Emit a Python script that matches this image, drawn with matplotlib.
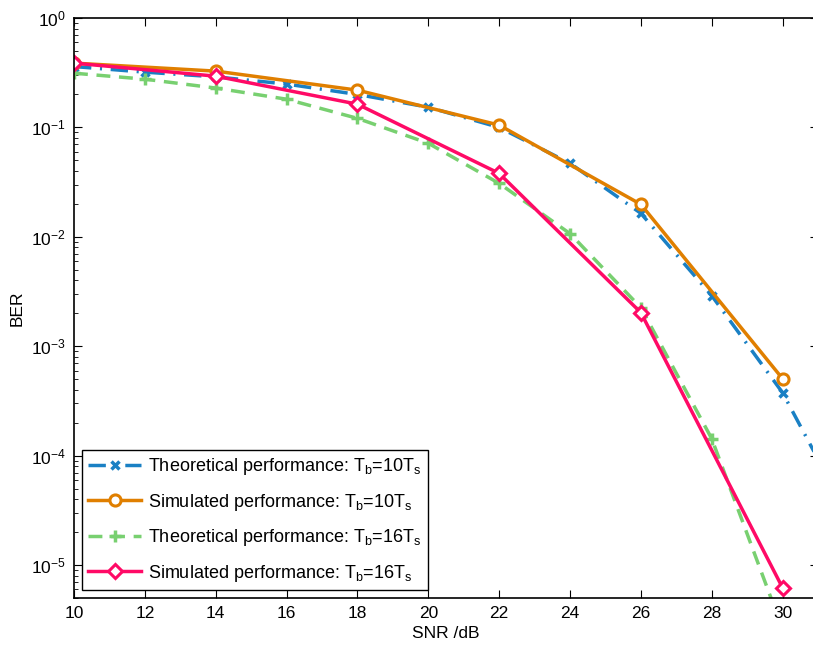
import numpy as np
import matplotlib
matplotlib.use("Agg")
import matplotlib.pyplot as plt

plt.rcParams['font.family'] = ['Liberation Sans', 'DejaVu Sans']
plt.rcParams['mathtext.fontset'] = 'custom'
plt.rcParams['mathtext.rm'] = 'Liberation Sans'
plt.rcParams['mathtext.it'] = 'Liberation Sans:italic'
plt.rcParams['font.size'] = 12.5

# theoretical curves, every 2 dB
snr_theory = [10, 12, 14, 16, 18, 20, 22, 24, 26, 28, 30, 32]
ber_theory_10 = [0.36, 0.32, 0.29, 0.249, 0.20, 0.153, 0.100, 0.047, 0.0164, 2.9e-3, 3.76e-4, 2.3e-5]
ber_theory_16 = [0.313, 0.276, 0.229, 0.181, 0.121, 0.0716, 0.0308, 0.0107, 2.25e-3, 1.43e-4, 2.6e-6, 1e-8]

# simulated, every 4 dB
snr_sim = [10, 14, 18, 22, 26, 30]
ber_sim_10 = [0.387, 0.327, 0.219, 0.105, 0.0198, 5.05e-4]
ber_sim_16 = [0.387, 0.294, 0.163, 0.038, 2.03e-3, 6.2e-6]

labels = [
    r'Theoretical performance: T$_\mathrm{b}$=10T$_\mathrm{s}$',
    r'Simulated performance: T$_\mathrm{b}$=10T$_\mathrm{s}$',
    r'Theoretical performance: T$_\mathrm{b}$=16T$_\mathrm{s}$',
    r'Simulated performance: T$_\mathrm{b}$=16T$_\mathrm{s}$',
]

c_blue = '#1a80c4'
c_orange = '#e07f00'
c_green = '#78d070'
c_pink = '#ff0a66'

fig = plt.figure(figsize=(8.13, 6.48), dpi=100)
ax = fig.add_axes([74 / 813, 1 - 598 / 648, (818 - 74) / 813, (598 - 18) / 648])

ax.semilogy(snr_theory, ber_theory_10, color=c_blue, linestyle=(0, (5, 2.5, 0.6, 2.5)), linewidth=2.5,
            marker='x', markersize=6, markeredgewidth=2.5, label=labels[0])
ax.semilogy(snr_sim, ber_sim_10, color=c_orange, linestyle='-', linewidth=2.5,
            marker='o', markersize=8, markeredgewidth=2.2, markerfacecolor='white', label=labels[1])
ax.semilogy(snr_theory, ber_theory_16, color=c_green, linestyle=(0, (4, 2.5)), linewidth=2.5,
            marker='+', markersize=8, markeredgewidth=2.5, label=labels[2])
ax.semilogy(snr_sim, ber_sim_16, color=c_pink, linestyle='-', linewidth=2.5,
            marker='D', markersize=7, markeredgewidth=2.2, markerfacecolor='white', label=labels[3])

ax.set_xlim(10, 31)
ax.set_ylim(5e-6, 1)
ax.set_xticks(np.arange(10, 31, 2))
ax.tick_params(which='both', direction='in', top=True, right=True, labelsize=12.5)
ax.tick_params(which='major', length=6, pad=6)
ax.tick_params(which='minor', length=3)
for s in ax.spines.values():
    s.set_linewidth(1.2)

ax.set_xlabel('SNR /dB', fontsize=12.5, labelpad=3)
ax.set_ylabel('BER', fontsize=12.5, labelpad=4)

leg = ax.legend(loc='lower left', fontsize=13, handlelength=2.9, fancybox=False,
                framealpha=1, edgecolor='black', borderaxespad=0.45, labelspacing=0.8,
                borderpad=0.35, handletextpad=0.4)
leg.get_frame().set_linewidth(1.0)

fig.savefig('out.png', dpi=100)
